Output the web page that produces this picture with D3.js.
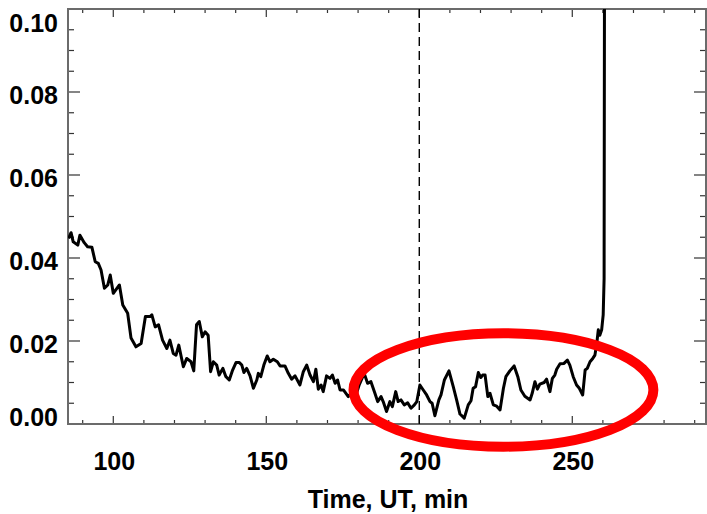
<!DOCTYPE html>
<html>
<head>
<meta charset="utf-8">
<script src="https://cdn.jsdelivr.net/npm/d3@7"></script>
<style>
  body { margin: 0; background: #fff; }
  text { font-family: "Liberation Sans", Arial, sans-serif; font-weight: bold; }
</style>
</head>
<body>
<div id="chart"></div>
<script>
// time (UT, min) and value
var flux = [
  [85.4, 0.0447], [86.2, 0.0461], [86.9, 0.0439], [88.4, 0.0431], [89.1, 0.0455],
  [90.5, 0.0437], [91.6, 0.0427], [93.0, 0.0426], [94.1, 0.0391], [95.1, 0.0387],
  [96.0, 0.0371], [97.1, 0.0327], [98.2, 0.0335], [99.0, 0.0359], [100.0, 0.0315],
  [102.0, 0.0335], [103.1, 0.0287], [104.7, 0.0267], [105.8, 0.0207], [107.4, 0.0186],
  [109.1, 0.0194], [110.5, 0.0259], [112.0, 0.0259], [112.6, 0.0263], [113.7, 0.0234],
  [114.8, 0.0239], [116.1, 0.0202], [117.5, 0.0182], [118.5, 0.0202], [119.6, 0.0170],
  [120.5, 0.0166], [121.4, 0.0190], [122.9, 0.0138], [124.0, 0.0158], [125.4, 0.0150],
  [126.3, 0.0128], [127.2, 0.0239], [128.1, 0.0247], [129.1, 0.0210], [130.0, 0.0222],
  [131.0, 0.0214], [131.8, 0.0126], [132.7, 0.0150], [133.8, 0.0142], [134.6, 0.0118],
  [135.8, 0.0134], [136.8, 0.0114], [137.9, 0.0106], [139.0, 0.0130], [140.1, 0.0148],
  [141.2, 0.0148], [142.0, 0.0142], [142.7, 0.0124], [143.6, 0.0134], [144.7, 0.0116],
  [145.8, 0.0086], [146.9, 0.0106], [147.4, 0.0122], [148.2, 0.0114], [149.2, 0.0142],
  [150.3, 0.0164], [151.2, 0.0150], [152.3, 0.0156], [153.6, 0.0150], [154.5, 0.0140],
  [156.1, 0.0140], [157.2, 0.0122], [158.3, 0.0108], [159.4, 0.0116], [161.0, 0.0094],
  [162.1, 0.0126], [163.2, 0.0142], [164.3, 0.0118], [165.4, 0.0102], [166.2, 0.0132],
  [167.0, 0.0084], [167.9, 0.0094], [168.6, 0.0078], [169.7, 0.0116], [170.8, 0.0110],
  [171.6, 0.0118], [172.5, 0.0098], [173.3, 0.0106], [174.1, 0.0082], [175.2, 0.0082],
  [176.8, 0.0066], [177.8, 0.0075], [179.1, 0.0065], [180.4, 0.0095], [182.0, 0.0122],
  [183.1, 0.0098], [184.2, 0.0102], [185.5, 0.0074], [186.4, 0.0054], [187.5, 0.0066],
  [188.2, 0.0054], [189.3, 0.0030], [190.4, 0.0054], [191.2, 0.0042], [192.3, 0.0078],
  [193.1, 0.0054], [194.0, 0.0058], [195.1, 0.0046], [196.2, 0.0051], [197.3, 0.0038],
  [198.4, 0.0046], [199.2, 0.0054], [200.2, 0.0094], [201.3, 0.0082], [202.4, 0.0070],
  [203.5, 0.0054], [204.2, 0.0050], [205.1, 0.0020], [206.4, 0.0058], [207.1, 0.0070],
  [208.2, 0.0106], [209.7, 0.0128], [211.1, 0.0090], [212.2, 0.0058], [213.3, 0.0024],
  [214.7, 0.0014], [216.0, 0.0046], [216.9, 0.0056], [217.6, 0.0086], [218.4, 0.0090],
  [219.3, 0.0124], [220.1, 0.0112], [220.7, 0.0118], [221.5, 0.0118], [222.4, 0.0066],
  [223.1, 0.0074], [224.2, 0.0046], [225.3, 0.0043], [226.4, 0.0034], [227.5, 0.0086],
  [228.3, 0.0114], [229.6, 0.0128], [231.0, 0.0140], [232.2, 0.0114], [233.2, 0.0082],
  [234.5, 0.0067], [236.2, 0.0058], [236.9, 0.0074], [237.8, 0.0102], [238.6, 0.0084],
  [239.4, 0.0096], [240.8, 0.0100], [241.6, 0.0108], [242.7, 0.0078], [243.5, 0.0110],
  [244.3, 0.0118], [244.9, 0.0132], [246.0, 0.0145], [247.3, 0.0146], [248.4, 0.0154],
  [249.2, 0.0142], [250.3, 0.0114], [251.4, 0.0094], [252.3, 0.0086], [253.4, 0.0070],
  [254.2, 0.0130], [254.9, 0.0134], [255.8, 0.0150], [256.7, 0.0158], [257.4, 0.0166],
  [258.0, 0.0194], [258.5, 0.0227], [259.0, 0.0214], [259.6, 0.0227], [260.1, 0.0263],
  [260.4, 0.0350], [260.6, 0.1500]
];

var xTicks = [100, 150, 200, 250];
var xTickLabels = ["100", "150", "200", "250"];
var yTicks = [0, 0.02, 0.04, 0.06, 0.08, 0.10];
var yTickLabels = ["0.00", "0.02", "0.04", "0.06", "0.08", "0.10"];
var markerTime = 200;
var ellipseCenter = [227.5, 0.0082];   // time, value
var ellipseRadius = [49, 0.01366];     // min, value units

(function() {
  var width = 707, height = 514;
  var box = { left: 68, right: 706, top: 9, bottom: 424 };

  var svg = d3.select("#chart")
    .append("svg")
    .attr("width", width)
    .attr("height", height);

  var x = d3.scaleLinear().domain([85.2, 293.7]).range([box.left, box.right]);
  var y = d3.scaleLinear().domain([0, 0.1]).range([box.bottom, box.top]);

  svg.append("clipPath").attr("id", "plot")
    .append("rect")
    .attr("x", box.left).attr("y", box.top)
    .attr("width", box.right - box.left).attr("height", box.bottom - box.top);

  // minor + major ticks on all four sides
  var xMinor = d3.range(90, 293, 10);
  var yMinor = d3.range(0, 0.1001, 0.005);

  var g = svg.append("g");

  function isMajorX(t) { return xTicks.indexOf(t) >= 0; }
  function isMajorY(v) { return yTicks.some(function(m) { return Math.abs(m - v) < 1e-6; }); }

  xMinor.forEach(function(t) {
    var len = isMajorX(t) ? 8 : 4;
    g.append("line").attr("x1", x(t)).attr("x2", x(t)).attr("y1", box.bottom).attr("y2", box.bottom - len);
    g.append("line").attr("x1", x(t)).attr("x2", x(t)).attr("y1", box.top).attr("y2", box.top + len);
  });
  yMinor.forEach(function(v) {
    var len = isMajorY(v) ? 12 : 6;
    g.append("line").attr("y1", y(v)).attr("y2", y(v)).attr("x1", box.left).attr("x2", box.left + len);
    g.append("line").attr("y1", y(v)).attr("y2", y(v)).attr("x1", box.right).attr("x2", box.right - len);
  });
  g.selectAll("line").attr("stroke", "#333").attr("stroke-width", 1.2);

  // frame
  svg.append("rect")
    .attr("x", box.left).attr("y", box.top)
    .attr("width", box.right - box.left).attr("height", box.bottom - box.top)
    .attr("fill", "none")
    .attr("stroke", "#6b6b6b")
    .attr("stroke-width", 2);

  // dashed marker
  svg.append("line")
    .attr("x1", x(markerTime)).attr("x2", x(markerTime))
    .attr("y1", box.top).attr("y2", box.bottom)
    .attr("stroke", "#000")
    .attr("stroke-width", 1.4)
    .attr("stroke-dasharray", "9,5");

  // the data
  var line = d3.line()
    .x(function(d) { return x(d[0]); })
    .y(function(d) { return y(d[1]); });

  svg.append("path")
    .datum(flux)
    .attr("clip-path", "url(#plot)")
    .attr("d", line)
    .attr("fill", "none")
    .attr("stroke", "#000")
    .attr("stroke-width", 3)
    .attr("stroke-linejoin", "round");

  // tick labels
  svg.selectAll(".xlab")
    .data(xTicks)
    .enter().append("text")
    .attr("class", "xlab")
    .attr("x", function(d) { return x(d) + 1; })
    .attr("y", 470)
    .attr("text-anchor", "middle")
    .attr("font-size", 25)
    .text(function(d, i) { return xTickLabels[i]; });

  svg.selectAll(".ylab")
    .data(yTicks)
    .enter().append("text")
    .attr("class", "ylab")
    .attr("x", 58)
    .attr("y", function(d, i) {
      if (i === 0) return y(d) + 2;
      if (i === yTicks.length - 1) return y(d) + 23;
      return y(d) + 12;
    })
    .attr("text-anchor", "end")
    .attr("font-size", 25)
    .text(function(d, i) { return yTickLabels[i]; });

  svg.append("text")
    .attr("x", (box.left + box.right) / 2 + 1)
    .attr("y", 508)
    .attr("text-anchor", "middle")
    .attr("font-size", 25)
    .text("Time, UT, min");

  // red annotation ellipse
  svg.append("ellipse")
    .attr("cx", x(ellipseCenter[0]))
    .attr("cy", y(ellipseCenter[1]))
    .attr("rx", x(ellipseCenter[0] + ellipseRadius[0]) - x(ellipseCenter[0]))
    .attr("ry", y(0) - y(ellipseRadius[1]))
    .attr("fill", "none")
    .attr("stroke", "#ff0000")
    .attr("stroke-width", 10);
})();
</script>
</body>
</html>
